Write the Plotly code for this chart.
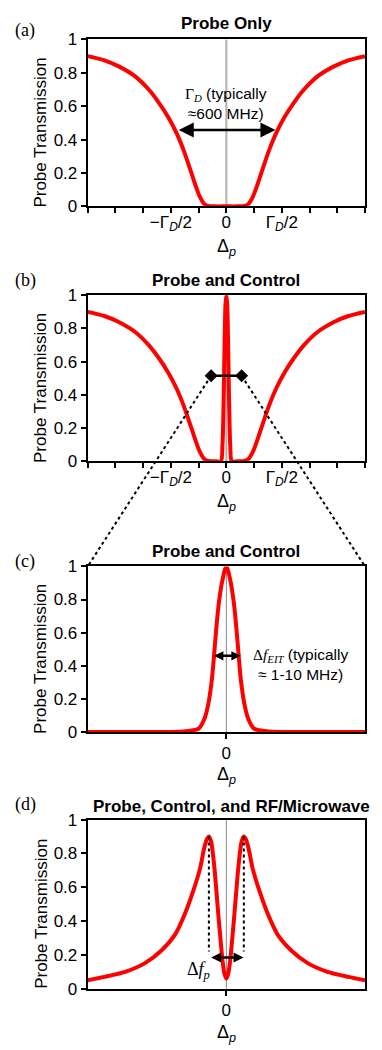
import plotly.graph_objects as go

# ---------------- data ----------------
# (a) Probe only: Doppler-broadened absorption
a_x = [-5, -4.4, -3.9, -3.3, -2.8, -2.45, -2.1, -1.8, -1.55, -1.3, -1.1, -0.95, -0.8, -0.65, -0.4, 0,
       0.4, 0.65, 0.8, 0.95, 1.1, 1.3, 1.55, 1.8, 2.1, 2.45, 2.8, 3.3, 3.9, 4.4, 5]
a_y = [0.90, 0.875, 0.84, 0.78, 0.70, 0.625, 0.535, 0.44, 0.34, 0.22, 0.12, 0.055, 0.015, 0.002, 0.0, 0.0,
       0.0, 0.002, 0.015, 0.055, 0.12, 0.22, 0.34, 0.44, 0.535, 0.625, 0.70, 0.78, 0.84, 0.875, 0.90]

# (b) Probe and control: absorption with narrow EIT spike
b_x = [-5, -4.4, -3.9, -3.3, -2.8, -2.45, -2.1, -1.8, -1.55, -1.3, -1.1, -0.95, -0.8, -0.65, -0.4,
       -0.2, -0.14, -0.1, -0.065, -0.03, 0, 0.03, 0.065, 0.1, 0.14, 0.2,
       0.4, 0.65, 0.8, 0.95, 1.1, 1.3, 1.55, 1.8, 2.1, 2.45, 2.8, 3.3, 3.9, 4.4, 5]
b_y = [0.90, 0.875, 0.84, 0.78, 0.70, 0.625, 0.535, 0.44, 0.34, 0.22, 0.12, 0.055, 0.015, 0.002, 0.0,
       0.0, 0.10, 0.35, 0.70, 0.95, 1.0, 0.95, 0.70, 0.35, 0.10, 0.0,
       0.0, 0.002, 0.015, 0.055, 0.12, 0.22, 0.34, 0.44, 0.535, 0.625, 0.70, 0.78, 0.84, 0.875, 0.90]

# (c) zoom on EIT peak
c_x = [-5, -3, -2, -1.45, -1.2, -1.0, -0.8, -0.65, -0.52, -0.45, -0.36, -0.27, -0.15, 0,
       0.15, 0.27, 0.36, 0.45, 0.52, 0.65, 0.8, 1.0, 1.2, 1.45, 2, 3, 5]
c_y = [0.0, 0.0, 0.0, 0.004, 0.01, 0.02, 0.075, 0.17, 0.32, 0.45, 0.63, 0.78, 0.91, 1.0,
       0.91, 0.78, 0.63, 0.45, 0.32, 0.17, 0.075, 0.02, 0.01, 0.004, 0.0, 0.0, 0.0]

# (d) probe, control and RF: Autler-Townes split
d_x = [-5, -4.4, -3.65, -2.95, -2.35, -1.85, -1.5, -1.2, -0.95, -0.8, -0.7, -0.63, -0.55, -0.44,
       -0.36, -0.29, -0.21, -0.14, -0.07, 0,
       0.07, 0.14, 0.21, 0.29, 0.36, 0.44, 0.55, 0.63, 0.7, 0.8, 0.95, 1.2, 1.5, 1.85, 2.35, 2.95,
       3.65, 4.4, 5]
d_y = [0.05, 0.07, 0.10, 0.15, 0.225, 0.32, 0.44, 0.575, 0.71, 0.83, 0.885, 0.90, 0.87, 0.73,
       0.58, 0.44, 0.29, 0.17, 0.09, 0.06,
       0.09, 0.17, 0.29, 0.44, 0.58, 0.73, 0.87, 0.90, 0.885, 0.83, 0.71, 0.575, 0.44, 0.32, 0.225,
       0.15, 0.10, 0.07, 0.05]

x_range = [-5, 5]
y_ticks = [0, 0.2, 0.4, 0.6, 0.8, 1]
y_ticktext = ["0", "0.2", "0.4", "0.6", "0.8", "1"]
ab_xticks = [-5, -4, -3, -2, -1, 0, 1, 2, 3, 4, 5]
ab_xticktext = ["", "", "", "\u2212\u0393<sub><i>D</i></sub>/2", "", "0", "",
                "\u0393<sub><i>D</i></sub>/2", "", "", ""]
cd_xticks = [0]
cd_xticktext = ["0"]

titles = ["Probe Only", "Probe and Control", "Probe and Control",
          "Probe, Control, and RF/Microwave"]
panel_labels = ["(a)", "(b)", "(c)", "(d)"]

# annotation geometry (data units)
a_arrow = (-1.77, 1.77, 0.457)
b_bracket_x = [-0.55, 0.55]
b_bracket_y = [0.515, 0.515]
c_arrow = (-0.5, 0.52, 0.46)
d_arrow = (-0.6, 0.62, 0.185)
d_peaks_x = [-0.63, 0.63]
d_peak_y = 0.90
d_drop_y = 0.22

# ---------------- layout ----------------
W, H = 382, 1050
SANS = "Arial, Liberation Sans, sans-serif"
SERIF = "Liberation Serif, Times New Roman, serif"
RED = "#ff0000"

x_dom = [87.7 / W, 365.0 / W]
panels_px = [(31.0, 201.0), (291.5, 460.7), (567.7, 736.3), (825.5, 997.8)]
y_doms = [[1 - b / H, 1 - t / H] for (t, b) in panels_px]

fig = go.Figure()

curves = [(a_x, a_y), (b_x, b_y), (c_x, c_y), (d_x, d_y)]
layout = dict(width=W, height=H, margin=dict(l=0, r=0, t=0, b=0),
              paper_bgcolor="white", plot_bgcolor="white", showlegend=False,
              font=dict(family=SANS, size=16, color="black"))
annotations = []
shapes = []

for i, (cx, cy) in enumerate(curves):
    n = i + 1
    xs = "" if n == 1 else str(n)
    xa, ya = "x" + xs, "y" + xs
    fig.add_trace(go.Scatter(x=cx, y=cy, mode="lines", xaxis=xa, yaxis=ya,
                             line=dict(color=RED, width=4, shape="spline", smoothing=0.8),
                             cliponaxis=False, hoverinfo="skip"))
    if i < 2:
        tv, tt = ab_xticks, ab_xticktext
    else:
        tv, tt = cd_xticks, cd_xticktext
    layout["xaxis" + xs] = dict(domain=x_dom, range=x_range, anchor=ya, showgrid=False,
                                zeroline=False, showline=True, linecolor="black", linewidth=2,
                                mirror=True, ticks="outside", ticklen=5, tickwidth=2,
                                tickcolor="black", tickvals=tv, ticktext=tt,
                                ticklabelstandoff=(-6 if i < 2 else 0),
                                tickfont=dict(family=SANS, size=17))
    layout["yaxis" + xs] = dict(domain=y_doms[i], range=[0, 1], anchor=xa, showgrid=False,
                                zeroline=False, showline=True, linecolor="black", linewidth=2,
                                mirror=True, ticks="outside", ticklen=5, tickwidth=2,
                                tickcolor="black", tickvals=y_ticks, ticktext=y_ticktext,
                                tickfont=dict(family=SANS, size=17))
    # vertical zero line
    shapes.append(dict(type="line", xref=xa, yref=ya + " domain", x0=0, x1=0, y0=0, y1=1,
                       layer="below",
                       line=dict(color="#b0b0b0" if i < 2 else "#8a8a8a",
                                 width=2 if i < 2 else 1)))
    # title
    annotations.append(dict(text="<b>%s</b>" % titles[i], xref=xa + " domain", yref=ya + " domain",
                            x=0.5, y=1, xanchor="center", yanchor="middle",
                            yshift=[16, 15, 15, 13][i], xshift=[0, 0, 0, 5][i], showarrow=False,
                            font=dict(family=SANS, size=17)))
    # panel label
    annotations.append(dict(text=panel_labels[i], xref="paper", yref=ya + " domain",
                            x=25 / W, y=1, xanchor="center", yanchor="middle",
                            yshift=[9, 14.5, 4.5, 15.5][i], showarrow=False,
                            font=dict(family=SERIF, size=18)))
    # y title
    annotations.append(dict(text="Probe Transmission", xref=xa + " domain", yref=ya + " domain",
                            x=0, y=0.5, xshift=-47, yshift=-10, textangle=-90,
                            xanchor="center", yanchor="middle", showarrow=False,
                            font=dict(family=SANS, size=17)))
    # x title
    annotations.append(dict(text="\u0394<sub><i>p</i></sub>", xref=xa + " domain",
                            yref=ya + " domain", x=0.5, y=0, yanchor="middle",
                            yshift=-[41, 41, 44, 45][i], showarrow=False,
                            font=dict(family=SANS, size=18)))

# (a) double arrow + text
annotations.append(dict(x=a_arrow[1], y=a_arrow[2], ax=a_arrow[0], ay=a_arrow[2],
                        xref="x", yref="y", axref="x", ayref="y", text="", showarrow=True,
                        arrowhead=2, startarrowhead=2, arrowside="end+start", arrowsize=1.2,
                        startarrowsize=1.2, arrowwidth=2.5, arrowcolor="black",
                        standoff=0, startstandoff=0))
annotations.append(dict(x=0, y=0.615, xref="x", yref="y", showarrow=False, xanchor="center",
                        yanchor="middle",
                        text='<span style="font-family:Liberation Serif">\u0393<sub><i>D</i></sub></span> (typically<br>\u2248600 MHz)',
                        font=dict(family=SANS, size=15.5)))

# (b) diamond bracket
fig.add_trace(go.Scatter(x=b_bracket_x, y=b_bracket_y, mode="lines+markers", xaxis="x2",
                         yaxis="y2", line=dict(color="black", width=2.5),
                         marker=dict(symbol="diamond", size=10, color="black"),
                         cliponaxis=False, hoverinfo="skip"))

# dotted connectors from (b) bracket to (c) top corners
def to_paper(x, y, i):
    xp = x_dom[0] + (x - x_range[0]) / (x_range[1] - x_range[0]) * (x_dom[1] - x_dom[0])
    yp = y_doms[i][0] + y * (y_doms[i][1] - y_doms[i][0])
    return xp, yp

for k, corner_x in enumerate([x_dom[0], x_dom[1]]):
    px0, py0 = to_paper(b_bracket_x[k], b_bracket_y[k], 1)
    shapes.append(dict(type="line", xref="paper", yref="paper", x0=px0, y0=py0,
                       x1=corner_x, y1=y_doms[2][1],
                       line=dict(color="black", width=2, dash="dot")))

# (c) arrow + text
annotations.append(dict(x=c_arrow[1], y=c_arrow[2], ax=c_arrow[0], ay=c_arrow[2],
                        xref="x3", yref="y3", axref="x3", ayref="y3", text="", showarrow=True,
                        arrowhead=2, startarrowhead=2, arrowside="end+start", arrowsize=0.75,
                        startarrowsize=0.75, arrowwidth=2.5, arrowcolor="black",
                        standoff=0, startstandoff=0))
annotations.append(dict(x=0.9, y=0.405, xref="x3", yref="y3", showarrow=False, xanchor="left",
                        yanchor="middle",
                        text='<span style="font-family:Liberation Serif">\u0394<i>f</i><sub><i>EIT</i></sub></span> (typically<br>\u2248 1-10 MHz)',
                        font=dict(family=SANS, size=15.5)))

# (d) dotted drops, arrow and label
for px_ in d_peaks_x:
    shapes.append(dict(type="line", xref="x4", yref="y4", x0=px_, x1=px_, y0=d_peak_y,
                       y1=d_drop_y, line=dict(color="black", width=2, dash="dot")))
annotations.append(dict(x=d_arrow[1], y=d_arrow[2], ax=d_arrow[0], ay=d_arrow[2],
                        xref="x4", yref="y4", axref="x4", ayref="y4", text="", showarrow=True,
                        arrowhead=2, startarrowhead=2, arrowside="end+start", arrowsize=0.8,
                        startarrowsize=0.8, arrowwidth=2.5, arrowcolor="black",
                        standoff=0, startstandoff=0))
annotations.append(dict(x=-1.0, y=0.11, xref="x4", yref="y4", showarrow=False,
                        xanchor="center", text="\u0394<i>f</i><sub><i>p</i></sub>",
                        font=dict(family=SERIF, size=18)))

layout["annotations"] = annotations
layout["shapes"] = shapes
fig.update_layout(**layout)
fig.write_html("out.html")
